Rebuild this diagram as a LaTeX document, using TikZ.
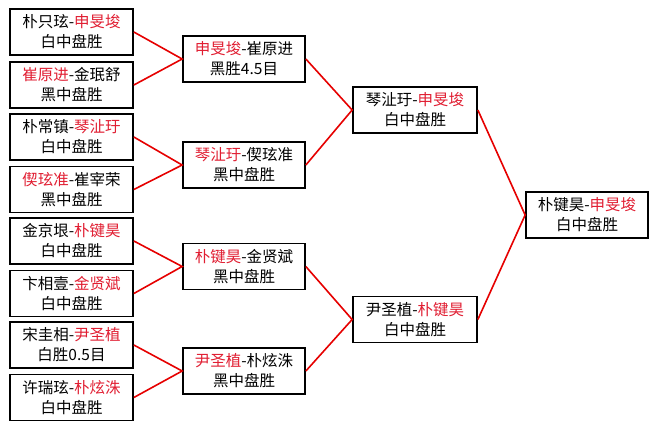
\documentclass[tikz,border=0pt]{standalone}
\usepackage{fontspec}
\setmainfont{Noto Sans CJK SC}
\definecolor{txtred}{RGB}{225,30,50}
\definecolor{linered}{RGB}{230,0,0}
\tikzset{
  game/.style={draw=black, line width=1.7pt, fill=white, align=center, inner sep=0pt,
    minimum height=46pt, font=\fontsize{15.5}{20}\selectfont},
  c1/.style={game, minimum width=123pt},
  c2/.style={game, minimum width=122pt},
  c3/.style={game, minimum width=124pt},
  link/.style={draw=linered, line width=1.6pt},
}
\newcommand{\rd}[1]{\textcolor{txtred}{#1}}
\begin{document}
\begin{tikzpicture}[x=1pt,y=-1pt]
\useasboundingbox[fill=white] (0,0) rectangle (659,429);
% column 1
\node[c1] (a1) at (71.5,32) {朴只玹-\rd{申旻埈}\\白中盘胜};
\node[c1] (a2) at (71.5,85) {\rd{崔原进}-金珉舒\\黑中盘胜};
\node[c1] (a3) at (71.5,137) {朴常镇-\rd{琴沚玗}\\白中盘胜};
\node[c1] (a4) at (71.5,189.5) {\rd{偰玹准}-崔宰荣\\黑中盘胜};
\node[c1] (a5) at (71.5,241) {金京垠-\rd{朴键昊}\\白中盘胜};
\node[c1] (a6) at (71.5,293.5) {卞相壹-\rd{金贤斌}\\白中盘胜};
\node[c1] (a7) at (71.5,345) {宋圭相-\rd{尹圣植}\\白胜0.5目};
\node[c1] (a8) at (71.5,397.5) {许瑞玹-\rd{朴炫洙}\\白中盘胜};
% column 2
\node[c2] (b1) at (244,59) {\rd{申旻埈}-崔原进\\黑胜4.5目};
\node[c2] (b2) at (244,165) {\rd{琴沚玗}-偰玹准\\黑中盘胜};
\node[c2] (b3) at (244,266.5) {\rd{朴键昊}-金贤斌\\黑中盘胜};
\node[c2] (b4) at (244,371) {\rd{尹圣植}-朴炫洙\\黑中盘胜};
% column 3
\node[c3] (d1) at (415,110) {琴沚玗-\rd{申旻埈}\\白中盘胜};
\node[c3] (d2) at (415,319.5) {尹圣植-\rd{朴键昊}\\白中盘胜};
% column 4
\node[c2] (f) at (587,215) {朴键昊-\rd{申旻埈}\\白中盘胜};
% connectors
\draw[link] (a1.east) -- (b1.west) -- (a2.east);
\draw[link] (a3.east) -- (b2.west) -- (a4.east);
\draw[link] (a5.east) -- (b3.west) -- (a6.east);
\draw[link] (a7.east) -- (b4.west) -- (a8.east);
\draw[link] (b1.east) -- (d1.west) -- (b2.east);
\draw[link] (b3.east) -- (d2.west) -- (b4.east);
\draw[link] (d1.east) -- (f.west) -- (d2.east);
\end{tikzpicture}
\end{document}
